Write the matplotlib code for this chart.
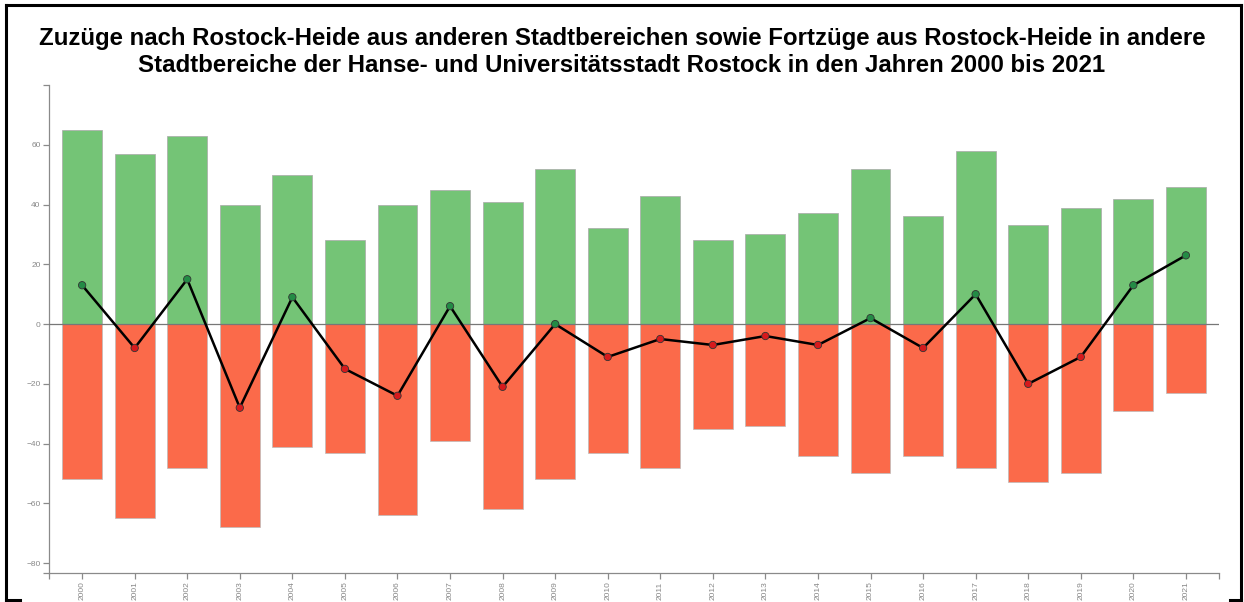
"""Zuzüge / Fortzüge Rostock-Heide 2000-2021: diverging bars with net balance line."""
import matplotlib

matplotlib.use("Agg")
import matplotlib.pyplot as plt
from matplotlib.lines import Line2D
import numpy as np

years = [str(y) for y in range(2000, 2022)]
zuzuege = [65, 57, 63, 40, 50, 28, 40, 45, 41, 52, 32, 43, 28, 30, 37, 52, 36, 58, 33, 39, 42, 46]
fortzuege = [-52, -65, -48, -68, -41, -43, -64, -39, -62, -52, -43, -48, -35, -34, -44, -50, -44, -48, -53, -50, -29, -23]
saldo = [13, -8, 15, -28, 9, -15, -24, 6, -21, 0, -11, -5, -7, -4, -7, 2, -8, 10, -20, -11, 13, 23]

title = ("Zuzüge nach Rostock-Heide aus anderen Stadtbereichen sowie Fortzüge aus Rostock-Heide in andere\n"
         "Stadtbereiche der Hanse- und Universitätsstadt Rostock in den Jahren 2000 bis 2021")

GREEN = "#74c476"
RED = "#fb6a4a"
AXIS_GREY = "#8a8a8a"

plt.rcParams["font.family"] = ["Liberation Sans", "DejaVu Sans"]

fig = plt.figure(figsize=(12.44, 6.02), dpi=100)
ax = fig.add_axes([49 / 1244, 1 - 573 / 602, (1219 - 49) / 1244, (573 - 85) / 602])

x = np.arange(len(years))
ax.bar(x, zuzuege, width=0.76, color=GREEN, edgecolor="#a8a8a8", linewidth=0.5, zorder=2)
ax.bar(x, fortzuege, width=0.76, color=RED, edgecolor="#bcbcbc", linewidth=0.5, zorder=2)
ax.axhline(0, color="#777777", linewidth=0.9, zorder=3)

ax.plot(x, saldo, color="black", linewidth=1.8, zorder=4)
marker_colors = ["#238b45" if v >= 0 else "#d7191c" for v in saldo]
ax.scatter(x, saldo, s=28, c=marker_colors, edgecolors="#333333", linewidths=0.6, zorder=5)

ax.set_xlim(-0.63, len(years) - 1 + 0.63)
ax.set_ylim(-83.3, 80)

ax.set_yticks(np.arange(-80, 61, 20))
ax.set_yticks([80, -83.3], minor=True)
ax.set_xticks(x)
ax.set_xticklabels(years, rotation=90)
ax.set_xticks([-0.63, len(years) - 1 + 0.63], minor=True)
ax.tick_params(axis="both", which="both", colors=AXIS_GREY, labelcolor="#888888", labelsize=6,
               length=4, width=0.9, pad=2)

for side in ("top", "right"):
    ax.spines[side].set_visible(False)
for side in ("left", "bottom"):
    ax.spines[side].set_color(AXIS_GREY)
    ax.spines[side].set_linewidth(0.9)

fig.text(0.5, 1 - 52 / 602, title, ha="center", va="center", fontsize=17.3,
         fontweight="bold", linespacing=1.17)

# outer frame of the graphic
frame = dict(color="black", linewidth=2.2, transform=fig.transFigure)
fig.add_artist(Line2D([6 / 1244, 6 / 1244], [1 - 600 / 602, 1 - 5 / 602], **frame))
fig.add_artist(Line2D([6 / 1244, 1241 / 1244], [1 - 5 / 602, 1 - 5 / 602], **frame))
fig.add_artist(Line2D([1241 / 1244, 1241 / 1244], [1 - 5 / 602, 1 - 600 / 602], **frame))
fig.add_artist(Line2D([6 / 1244, 20 / 1244], [1 - 600 / 602, 1 - 600 / 602], **frame))
fig.add_artist(Line2D([1230 / 1244, 1241 / 1244], [1 - 600 / 602, 1 - 600 / 602], **frame))

fig.savefig("out.png", dpi=100)
